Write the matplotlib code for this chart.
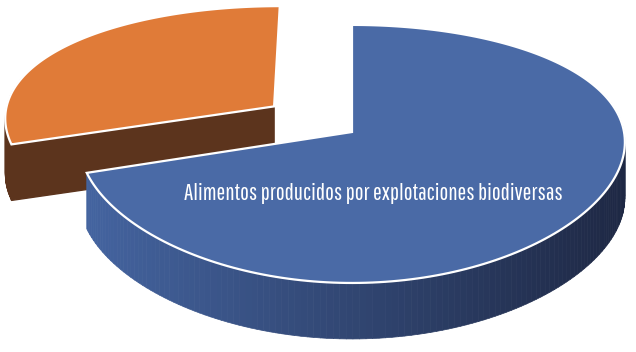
import numpy as np
import matplotlib
matplotlib.use("Agg")
import matplotlib.pyplot as plt
from matplotlib.patches import Polygon
from matplotlib.collections import PolyCollection
from matplotlib.colors import to_rgb

# data
labels = ['Alimentos producidos por explotaciones biodiversas', '']
shares = [70, 30]
explode = [0.0, 0.36]
top_colors = ['#4a6aa6', '#e07b38']
side_light = ['#4464a0', '#5c341d']
side_dark = ['#1e2844', '#4a2914']

# fake 3D projection of a tilted disc (pixel space)
CX, CY = 352, 132
R, K = 272, 125.3
PX, PY = 0.08, 0.17
DEPTH = 56


def proj(x, y):
    return CX + R * x / (1 + PX * y), CY - K * y / (1 + PY * y)


fig = plt.figure(figsize=(6.36, 3.52), dpi=100)
ax = fig.add_axes([0, 0, 1, 1])
ax.set_xlim(0, 636)
ax.set_ylim(352, 0)
ax.axis('off')

fr = np.array(shares) / sum(shares)
slices = []
# blue goes clockwise from 90 deg, orange takes the rest
ang = 90.0
for f in fr:
    slices.append((ang - 360 * f, ang))
    ang -= 360 * f

for i in [1, 0]:  # orange is behind
    a0, a1 = slices[i]
    mid = np.radians((a0 + a1) / 2)
    ex, ey = explode[i] * np.cos(mid), explode[i] * np.sin(mid)
    t = np.radians(np.linspace(a1, a0, 200))
    xs, ys = proj(ex + np.cos(t), ey + np.sin(t))
    vx, vy = proj(ex, ey)

    # side band (front part only), shaded segment by segment
    c1, c2 = np.array(to_rgb(side_light[i])), np.array(to_rgb(side_dark[i]))
    polys, cols = [], []
    for k in range(len(t) - 1):
        if np.sin(t[k]) > 0.3 and np.sin(t[k + 1]) > 0.3:
            continue
        polys.append([(xs[k], ys[k]), (xs[k + 1], ys[k + 1]),
                      (xs[k + 1], ys[k + 1] + DEPTH), (xs[k], ys[k] + DEPTH)])
        s = np.clip((xs[k] - 85) / 540, 0, 1)
        cols.append(c1 * (1 - s) + c2 * s)
    ax.add_collection(PolyCollection(polys, facecolors=cols, edgecolors=cols, linewidths=0.5))

    if i == 1:
        # cut face along the lower edge of the exploded slice
        ax.add_patch(Polygon([(vx, vy), (xs[0], ys[0]),
                              (xs[0], ys[0] + DEPTH), (vx, vy + DEPTH)],
                             closed=True, fc=side_light[i], ec=side_light[i]))

    top = np.column_stack([np.r_[vx, xs], np.r_[vy, ys]])
    ax.add_patch(Polygon(top, closed=True, fc=top_colors[i], ec='white', lw=1.6))

ax.text(373, 193, labels[0], color='white', fontsize=16.8, ha='center', va='center',
        family=['Pathway Gothic One', 'Roboto Condensed', 'DejaVu Sans'])

fig.savefig('out.png', dpi=100)
